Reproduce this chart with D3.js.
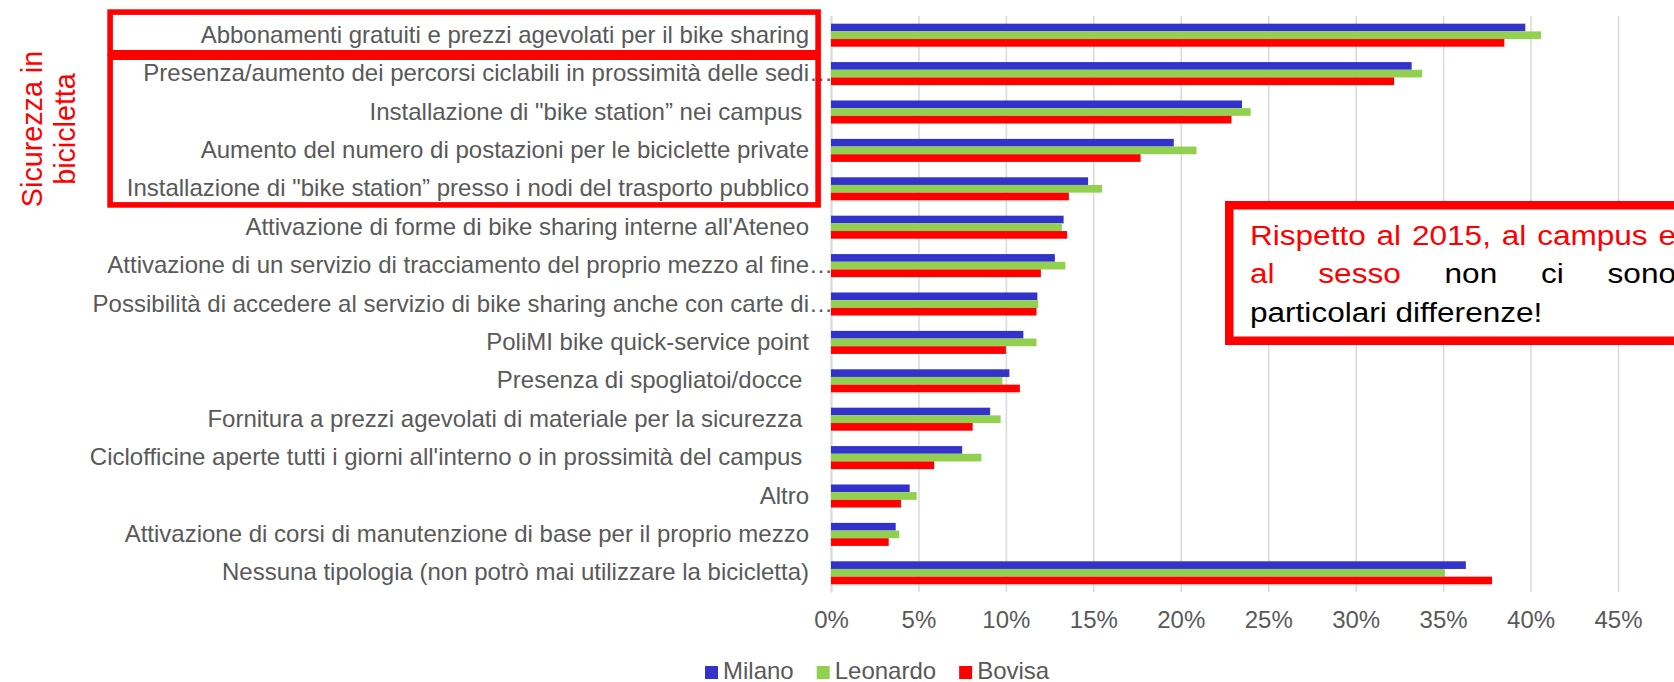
<!DOCTYPE html>
<html>
<head>
<meta charset="utf-8">
<script src="https://cdn.jsdelivr.net/npm/d3@7"></script>
<style>
    body { margin: 0; background: #fff; }
    svg { display: block; font-family: "Liberation Sans", Arial, sans-serif; }
</style>
</head>
<body>
<script>
'use strict';

// categories as written on the chart ("…" = label cut by Excel, trailing space kept)
const categories = [
    "Abbonamenti gratuiti e prezzi agevolati per il bike sharing",
    "Presenza/aumento dei percorsi ciclabili in prossimità delle sedi…",
    "Installazione di \"bike station” nei campus ",
    "Aumento del numero di postazioni per le biciclette private",
    "Installazione di \"bike station” presso i nodi del trasporto pubblico",
    "Attivazione di forme di bike sharing interne all'Ateneo",
    "Attivazione di un servizio di tracciamento del proprio mezzo al fine…",
    "Possibilità di accedere al servizio di bike sharing anche con carte di…",
    "PoliMI bike quick-service point",
    "Presenza di spogliatoi/docce ",
    "Fornitura a prezzi agevolati di materiale per la sicurezza ",
    "Ciclofficine aperte tutti i giorni all'interno o in prossimità del campus ",
    "Altro",
    "Attivazione di corsi di manutenzione di base per il proprio mezzo",
    "Nessuna tipologia (non potrò mai utilizzare la bicicletta)"
]

const seriesNames = ["Milano", "Leonardo", "Bovisa"]
const milano = [39.7, 33.2, 23.5, 19.6, 14.7, 13.3, 12.8, 11.8, 11.0, 10.2, 9.1, 7.5, 4.5, 3.7, 36.3]
const leonardo = [40.6, 33.8, 24.0, 20.9, 15.5, 13.2, 13.4, 11.85, 11.75, 9.8, 9.7, 8.6, 4.9, 3.9, 35.1]
const bovisa = [38.5, 32.2, 22.9, 17.7, 13.6, 13.5, 12.0, 11.75, 10.0, 10.8, 8.1, 5.9, 4.0, 3.3, 37.8]
const xTicks = [0, 5, 10, 15, 20, 25, 30, 35, 40, 45]

const sideTitle = ["Sicurezza in", "bicicletta"]
// [word, 1 = red / 0 = black]
const noteLines = [
    [["Rispetto", 1], ["al", 1], ["2015,", 1], ["al", 1], ["campus", 1], ["e", 1]],
    [["al", 1], ["sesso", 1], ["non", 0], ["ci", 0], ["sono", 0]],
    [["particolari", 0], ["differenze!", 0]]
]

const colors = { Milano: "#3333cc", Leonardo: "#92d050", Bovisa: "#ff0000" }
const red = "#ff0000"
const grey = "#595959"
const fontSize = "24px"

const W = 1674, H = 682
const plot = { left: 831, right: 1618, top: 16, bottom: 592 }

const svg = d3.select("body").append("svg")
    .attr("width", W)
    .attr("height", H)

const rows = categories.map((c, i) => ({
    cat: c,
    values: [milano[i], leonardo[i], bovisa[i]]
}))

const x = d3.scaleLinear()
    .domain([0, 45])
    .range([plot.left, plot.right])

const y0 = d3.scaleBand()
    .domain(categories)
    .range([plot.top, plot.bottom])
    .paddingInner(0.4)
    .paddingOuter(0.2)

const y1 = d3.scaleBand()
    .domain(seriesNames)
    .range([0, y0.bandwidth()])

// gridlines + percent labels
const gx = svg.append("g")
    .attr("transform", "translate(0," + plot.bottom + ")")
    .call(d3.axisBottom(x)
        .tickValues(xTicks)
        .tickSizeInner(-(plot.bottom - plot.top))
        .tickSizeOuter(0)
        .tickPadding(19)
        .tickFormat(d => d + "%"))
gx.select(".domain").remove()
gx.selectAll(".tick line").attr("stroke", "#d9d9d9").attr("stroke-width", 1.5)
gx.selectAll(".tick text")
    .attr("fill", grey)
    .attr("font-size", fontSize)
    .attr("font-family", "Liberation Sans, Arial, sans-serif")

// category axis
const gy = svg.append("g")
    .attr("transform", "translate(" + plot.left + ",0)")
    .call(d3.axisLeft(y0).tickSize(0).tickPadding(22))
gy.select(".domain").attr("stroke", "#d9d9d9").attr("stroke-width", 2)
gy.selectAll(".tick text")
    .attr("fill", grey)
    .attr("font-size", fontSize)
    .attr("font-family", "Liberation Sans, Arial, sans-serif")
    .attr("xml:space", "preserve")
    .style("white-space", "pre")
    .each(function (d) {
        if (d.endsWith("…")) {
            const t = d3.select(this)
            t.text(d.slice(0, -1))
            d3.select(this.parentNode).append("text")
                .attr("x", t.attr("x"))
                .attr("dy", t.attr("dy"))
                .attr("fill", grey)
                .attr("font-size", fontSize)
                .attr("text-anchor", "start")
                .text("…")
        }
    })

// bars
const groups = svg.append("g").selectAll("g")
    .data(rows)
    .join("g")
    .attr("transform", d => "translate(0," + y0(d.cat) + ")")

groups.selectAll("rect")
    .data(d => d.values.map((v, j) => ({ key: seriesNames[j], value: v })))
    .join("rect")
    .attr("x", x(0))
    .attr("y", d => y1(d.key))
    .attr("width", d => x(d.value) - x(0))
    .attr("height", y1.bandwidth())
    .attr("fill", d => colors[d.key])

// red boxes around the "sicurezza" group
const step = y0.step()
const bandTop = i => y0(categories[i]) - step * y0.paddingInner() / 2
const boxes = [
    { y: bandTop(0) - 3.9, y2: bandTop(1) - 1.6 },
    { y: bandTop(1) + 2.8, y2: bandTop(5) - 3.1 }
]
svg.append("g").selectAll("rect")
    .data(boxes)
    .join("rect")
    .attr("x", 110.1)
    .attr("width", 708)
    .attr("y", d => d.y)
    .attr("height", d => d.y2 - d.y)
    .attr("fill", "none")
    .attr("stroke", red)
    .attr("stroke-width", 5.6)

// rotated side title, centred on the boxed rows
const midY = (bandTop(0) + bandTop(5)) / 2 + 17
svg.append("text")
    .attr("transform", "translate(0," + midY + ") rotate(-90)")
    .attr("text-anchor", "middle")
    .attr("fill", red)
    .attr("font-size", "28.7px")
    .selectAll("tspan")
    .data(sideTitle)
    .join("tspan")
    .attr("x", 0)
    .attr("y", (d, i) => 42 + i * 32.5)
    .text(d => d)

// note box on the right
svg.append("rect")
    .attr("x", 1229.25)
    .attr("y", 205.25)
    .attr("width", 520)
    .attr("height", 135.5)
    .attr("fill", "#fff")
    .attr("stroke", red)
    .attr("stroke-width", 8.5)

const sx = 1.127
const noteX = 1250
const lineRight = (1676 - noteX) / sx
const note = svg.append("g")
    .attr("transform", "translate(" + noteX + ",0) scale(" + sx + ",1)")
    .attr("font-size", "28px")

noteLines.forEach((words, li) => {
    const baseline = 245 + li * 38.3
    const texts = words.map(w => note.append("text")
        .attr("y", baseline)
        .attr("fill", w[1] ? red : "#000")
        .text(w[0]))
    const widths = texts.map(t => t.node().getComputedTextLength())
    // justified, except the last line
    const gap = li < noteLines.length - 1
        ? (lineRight - d3.sum(widths)) / (words.length - 1)
        : 28 * 0.278
    let cx = 0
    texts.forEach((t, k) => {
        t.attr("x", cx)
        cx += widths[k] + gap
    })
})

// legend
const legend = svg.append("g")
    .attr("font-size", fontSize)
    .attr("fill", grey)
let lx = 705
seriesNames.forEach(name => {
    legend.append("rect")
        .attr("x", lx)
        .attr("y", 666)
        .attr("width", 13)
        .attr("height", 13)
        .attr("fill", colors[name])
    const t = legend.append("text")
        .attr("x", lx + 18)
        .attr("y", 679)
        .text(name)
    lx += 18 + t.node().getComputedTextLength() + 23
})
</script>
</body>
</html>
